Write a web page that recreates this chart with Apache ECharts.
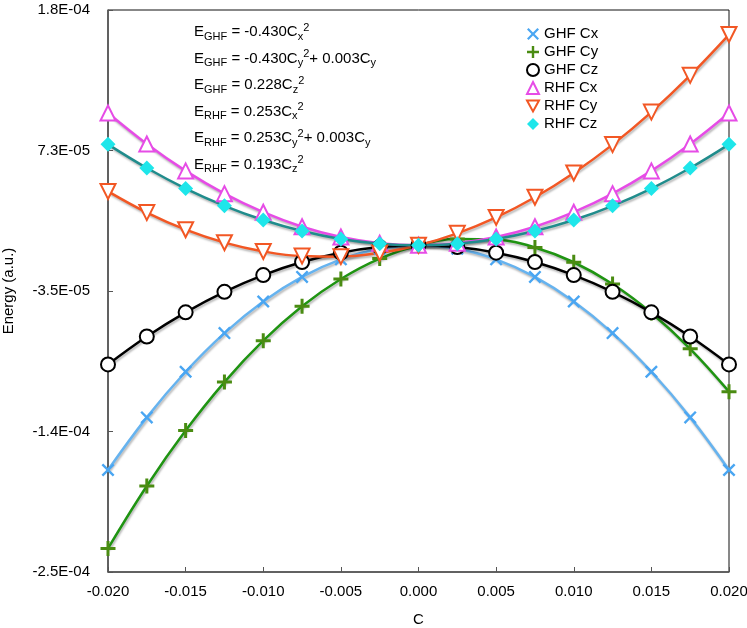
<!DOCTYPE html>
<html>
<head>
<meta charset="UTF-8">
<title>Energy vs C</title>
<script src="https://cdn.jsdelivr.net/npm/echarts@6/dist/echarts.min.js"></script>
<style>
    html, body { margin: 0; padding: 0; background: #fff; }
    #main { width: 747px; height: 628px; }
</style>
</head>
<body>
<div id="main"></div>
<script>
// C values (x)
var cValues = [-0.02, -0.0175, -0.015, -0.0125, -0.01, -0.0075, -0.005, -0.0025, 0,
    0.0025, 0.005, 0.0075, 0.01, 0.0125, 0.015, 0.0175, 0.02];

// energies (a.u.)
var ghfCx = [-1.72e-4, -1.317e-4, -9.68e-5, -6.72e-5, -4.30e-5, -2.42e-5, -1.08e-5, -2.7e-6, 0,
    -2.7e-6, -1.08e-5, -2.42e-5, -4.30e-5, -6.72e-5, -9.68e-5, -1.317e-4, -1.72e-4];
var ghfCy = [-2.32e-4, -1.842e-4, -1.418e-4, -1.047e-4, -7.30e-5, -4.67e-5, -2.58e-5, -1.02e-5, 0,
    4.8e-6, 4.2e-6, -1.7e-6, -1.30e-5, -2.97e-5, -5.18e-5, -7.92e-5, -1.12e-4];
var ghfCz = [-9.12e-5, -6.98e-5, -5.13e-5, -3.56e-5, -2.28e-5, -1.28e-5, -5.7e-6, -1.4e-6, 0,
    -1.4e-6, -5.7e-6, -1.28e-5, -2.28e-5, -3.56e-5, -5.13e-5, -6.98e-5, -9.12e-5];
var rhfCx = [1.012e-4, 7.75e-5, 5.69e-5, 3.95e-5, 2.53e-5, 1.42e-5, 6.3e-6, 1.6e-6, 0,
    1.6e-6, 6.3e-6, 1.42e-5, 2.53e-5, 3.95e-5, 5.69e-5, 7.75e-5, 1.012e-4];
var rhfCy = [4.12e-5, 2.50e-5, 1.19e-5, 2.0e-6, -4.7e-6, -8.3e-6, -8.7e-6, -5.9e-6, 0,
    9.1e-6, 2.13e-5, 3.67e-5, 5.53e-5, 7.70e-5, 1.019e-4, 1.300e-4, 1.612e-4];
var rhfCz = [7.72e-5, 5.91e-5, 4.34e-5, 3.02e-5, 1.93e-5, 1.09e-5, 4.8e-6, 1.2e-6, 0,
    1.2e-6, 4.8e-6, 1.09e-5, 1.93e-5, 3.02e-5, 4.34e-5, 5.91e-5, 7.72e-5];

// y axis ticks
var yTickValues = [-2.5e-4, -1.425e-4, -3.5e-5, 7.25e-5, 1.8e-4];
var yTickLabels = ['-2.5E-04', '-1.4E-04', '-3.5E-05', '7.3E-05', '1.8E-04'];

// fit equations: [method, coef, comp, extra linear term]
var fitLines = [
    ['GHF', '-0.430', 'x', null],
    ['GHF', '-0.430', 'y', '0.003'],
    ['GHF', '0.228', 'z', null],
    ['RHF', '0.253', 'x', null],
    ['RHF', '0.253', 'y', '0.003'],
    ['RHF', '0.193', 'z', null]
];

var FONT = 'Liberation Sans, Arial, Helvetica, sans-serif';
var plusPath = 'path://M4,0L6,0L6,4L10,4L10,6L6,6L6,10L4,10L4,6L0,6L0,4L4,4Z';
var xPath = 'path://M0,1.3L1.3,0L5,3.7L8.7,0L10,1.3L6.3,5L10,8.7L8.7,10L5,6.3L1.3,10L0,8.7L3.7,5Z';
var downTri = 'path://M0,0L10,0L5,9Z';

function pairs(ys) {
    return cValues.map(function (c, i) { return [c, ys[i]]; });
}

var shadow = { shadowColor: 'rgba(0,0,0,0.28)', shadowBlur: 2, shadowOffsetX: 1, shadowOffsetY: 2 };

function mkSeries(name, ys, symbol, size, itemStyle, lineColor, extra) {
    var s = {
        name: name,
        type: 'line',
        smooth: 0.4,
        data: pairs(ys),
        symbol: symbol,
        symbolSize: size,
        showAllSymbol: true,
        itemStyle: itemStyle,
        lineStyle: Object.assign({ color: lineColor, width: 2.5 }, shadow),
        emphasis: { disabled: true },
        z: 2
    };
    return Object.assign(s, extra || {});
}

var series = [
    mkSeries('GHF Cx', ghfCx, xPath, 13, { color: '#4aa6f2' }, '#66b3ef'),
    mkSeries('GHF Cy', ghfCy, plusPath, 15, { color: '#4a8c12' }, '#1f9412'),
    mkSeries('GHF Cz', ghfCz, 'emptyCircle', 14, { color: '#000', borderWidth: 2 }, '#000'),
    mkSeries('RHF Cx', rhfCx, 'emptyTriangle', 15, { color: '#e64ce6', borderWidth: 2 }, '#e64ce6'),
    mkSeries('RHF Cy', rhfCy, 'emptyTriangle', 15, { color: '#f25724', borderWidth: 2 }, '#f25724', { symbolRotate: 180 }),
    mkSeries('RHF Cz', rhfCz, 'diamond', 15, { color: '#1ee6ea' }, '#208c8c')
];

var legendData = [
    { name: 'GHF Cx', icon: xPath, itemStyle: { color: '#4aa6f2', borderWidth: 0 } },
    { name: 'GHF Cy', icon: plusPath, itemStyle: { color: '#4a8c12', borderWidth: 0 } },
    { name: 'GHF Cz', icon: 'circle', itemStyle: { color: '#fff', borderColor: '#000', borderWidth: 2 } },
    { name: 'RHF Cx', icon: 'triangle', itemStyle: { color: '#fff', borderColor: '#e64ce6', borderWidth: 2 } },
    { name: 'RHF Cy', icon: downTri, itemStyle: { color: '#fff', borderColor: '#f25724', borderWidth: 2 } },
    { name: 'RHF Cz', icon: 'diamond', itemStyle: { color: '#1ee6ea', borderWidth: 0 } }
];

// equation texts
var rich = {
    e: { fontSize: 15, fontFamily: FONT, color: '#000', lineHeight: 20 },
    s: { fontSize: 11, fontFamily: FONT, color: '#000', verticalAlign: 'bottom', lineHeight: 18 },
    b: { fontSize: 11, fontFamily: FONT, color: '#000', verticalAlign: 'bottom', lineHeight: 14 },
    p: { fontSize: 11, fontFamily: FONT, color: '#000', verticalAlign: 'top', lineHeight: 10 }
};
var graphics = fitLines.map(function (f, i) {
    var t = '{e|E}{s|' + f[0] + '}{e| = ' + f[1] + 'C}{b|' + f[2] + '}{p|2}';
    if (f[3]) t += '{e|+ ' + f[3] + 'C}{b|' + f[2] + '}';
    return {
        type: 'text',
        left: 194,
        top: 22 + i * 26.5,
        style: { text: t, rich: rich, font: '15px ' + FONT }
    };
});

var chart = echarts.init(document.getElementById('main'));
chart.setOption({
    animation: false,
    backgroundColor: '#fff',
    grid: {
        left: 108, right: 18, top: 10, bottom: 56,
        outerBoundsMode: 'none',
        containLabel: false,
        show: true, borderColor: '#111', borderWidth: 1, backgroundColor: 'transparent'
    },
    legend: {
        orient: 'vertical',
        left: 521,
        top: 21,
        itemWidth: 12,
        itemHeight: 12,
        itemGap: 2,
        selectedMode: false,
        data: legendData,
        textStyle: { fontSize: 15, fontFamily: FONT, color: '#000', lineHeight: 16 }
    },
    xAxis: {
        type: 'value',
        min: -0.02,
        max: 0.02,
        interval: 0.005,
        name: 'C',
        nameLocation: 'middle',
        nameGap: 40,
        nameTextStyle: { fontSize: 15, fontFamily: FONT, color: '#000' },
        axisLine: { onZero: false, lineStyle: { color: '#555', width: 1.5 } },
        axisTick: { inside: true, length: 5, lineStyle: { color: '#555' } },
        axisLabel: {
            margin: 12, fontSize: 15, fontFamily: FONT, color: '#000',
            formatter: function (v) { return Math.abs(v) < 1e-12 ? '0.000' : v.toFixed(3); }
        },
        splitLine: { show: false }
    },
    yAxis: {
        type: 'value',
        min: -2.5e-4,
        max: 1.8e-4,
        name: 'Energy (a.u.)',
        nameLocation: 'middle',
        nameGap: 92,
        nameRotate: 90,
        nameTextStyle: { fontSize: 15, fontFamily: FONT, color: '#000' },
        axisLine: { show: true, onZero: false, lineStyle: { color: '#555', width: 1.5 } },
        axisTick: { show: true, inside: true, length: 5, customValues: yTickValues, lineStyle: { color: '#555' } },
        axisLabel: {
            margin: 18, fontSize: 15, fontFamily: FONT, color: '#000',
            customValues: yTickValues,
            formatter: function (v) {
                for (var i = 0; i < yTickValues.length; i++) {
                    if (Math.abs(yTickValues[i] - v) < 1e-9) return yTickLabels[i];
                }
                return '';
            }
        },
        splitLine: { show: false }
    },
    graphic: graphics,
    series: series
});
</script>
</body>
</html>
